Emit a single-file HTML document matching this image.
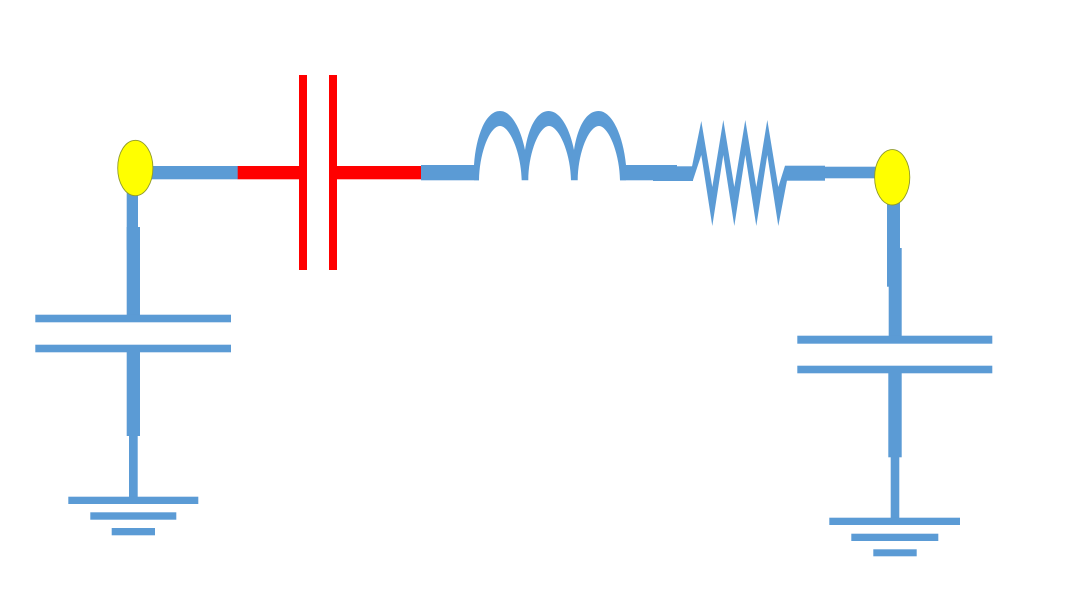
<!DOCTYPE html>
<html>
<head>
<meta charset="utf-8">
<style>
html,body{margin:0;padding:0;background:#fff;width:1080px;height:608px;overflow:hidden}
svg{display:block}
</style>
</head>
<body>
<svg width="1080" height="608" viewBox="0 0 1080 608" xmlns="http://www.w3.org/2000/svg">
<rect width="1080" height="608" fill="#fff"/>
<g fill="#5B9BD5" stroke="none">
  <!-- left branch -->
  <rect x="126.7" y="190" width="11.3" height="60"/>
  <rect x="126.7" y="227" width="13.3" height="90"/>
  <rect x="35.3" y="314.7" width="195.7" height="7.6"/>
  <rect x="35.3" y="344.7" width="195.7" height="7.6"/>
  <rect x="126.7" y="350" width="13.3" height="86"/>
  <rect x="129" y="434" width="8.7" height="65"/>
  <rect x="68.3" y="496.7" width="130" height="7.3"/>
  <rect x="90.3" y="512.3" width="86" height="7.4"/>
  <rect x="111.7" y="528" width="43.3" height="7.3"/>
  <!-- top wire, left -->
  <rect x="150" y="166" width="88" height="13.3"/>
  <!-- wire to inductor -->
  <rect x="421" y="165" width="58" height="15.3"/>
  <!-- inductor -->
  <path d="M474,165 C476,135 486,111 500,111 C512,111 521,130 525,150 C528,130 536,111 548.5,111 C561,111 570,130 574,150 C577,130 585,111 598.5,111 C612,111 623,135 626,165 L626,180.3 L620,180.3 C619.5,152 608,126 599,126 C589,126 578,152 577.7,180.3 L571,180.3 C570.5,152 558.5,126 549,126 C539.5,126 528.5,152 528.3,180.3 L521.7,180.3 C521,152 509.5,126 500,126 C490,126 479.5,152 479,180.3 L474,180.3 Z"/>
  <!-- wire inductor to resistor -->
  <rect x="620" y="165" width="57" height="15.3"/>
  <rect x="653" y="166.3" width="40" height="14.7"/>
  <!-- resistor -->
  <path d="M692,166.5 L701.3,121 L712.3,187 L723.3,120 L734.3,187 L745.3,120 L756.3,187 L767.3,120 L778.3,187 L785,165.7 L787,180.5 L778.3,226 L767.3,155 L756.3,226 L745.3,155 L734.3,226 L723.3,155 L712.3,226 L701.3,155 L692.7,181 Z"/>
  <!-- right wires -->
  <rect x="785" y="165.7" width="40" height="15"/>
  <rect x="825" y="166.7" width="55" height="11.6"/>
  <!-- right branch -->
  <rect x="887" y="200" width="13" height="86.7"/>
  <rect x="888.7" y="248" width="13" height="90"/>
  <rect x="797.3" y="335.7" width="195" height="8"/>
  <rect x="797.3" y="365.7" width="195" height="7.6"/>
  <rect x="888.3" y="371" width="13.4" height="86.3"/>
  <rect x="890.7" y="455" width="8.6" height="65"/>
  <rect x="829.3" y="517.7" width="130.7" height="7.3"/>
  <rect x="851.3" y="533.7" width="87" height="7.3"/>
  <rect x="873.3" y="549.3" width="43.4" height="7"/>
</g>
<g fill="#FF0000" stroke="none">
  <rect x="237.7" y="166" width="64" height="13.3"/>
  <rect x="335" y="166" width="86" height="13.3"/>
  <rect x="299" y="75" width="8" height="195"/>
  <rect x="329" y="75" width="8" height="195"/>
</g>
<ellipse cx="135.3" cy="168" rx="17.6" ry="27.7" fill="#FFFF00" stroke="#8F9A2A" stroke-width="0.9"/>
<ellipse cx="892.2" cy="177.3" rx="17.6" ry="27.7" fill="#FFFF00" stroke="#8F9A2A" stroke-width="0.9"/>
</svg>
</body>
</html>
